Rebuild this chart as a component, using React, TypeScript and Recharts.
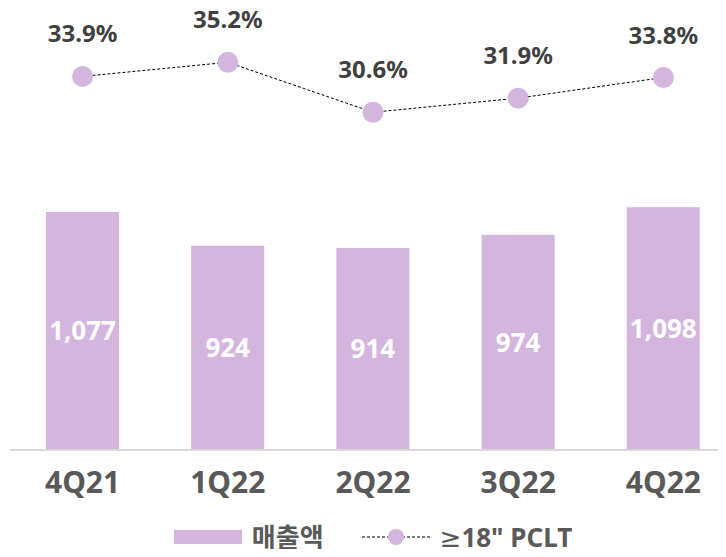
import React from "react";
import {
  ComposedChart,
  Bar,
  Line,
  XAxis,
  YAxis,
  Legend,
  LabelList,
} from "recharts";

const quarters = ["4Q21", "1Q22", "2Q22", "3Q22", "4Q22"];
const sales = [1077, 924, 914, 974, 1098];
const pcltShare = [33.9, 35.2, 30.6, 31.9, 33.8];

const BAR_COLOR = "#d3b5de";
const FONT = "'Noto Sans', 'Noto Sans CJK KR', sans-serif";

const data = quarters.map((q, i) => ({
  quarter: q,
  sales: sales[i],
  pclt: pcltShare[i],
}));

const AxisTick = (props: any) => {
  const { x, y, payload } = props;
  return (
    <text
      x={x}
      y={y + 35}
      textAnchor="middle"
      fill="#595959"
      fontSize={30}
      fontWeight={700}
      fontFamily={FONT}
    >
      {payload.value}
    </text>
  );
};

const PctLabel = (props: any) => {
  const { x, y, value } = props;
  return (
    <text
      x={x}
      y={y - 34}
      textAnchor="middle"
      fill="#404040"
      fontSize={24}
      fontWeight={700}
      fontFamily={FONT}
    >
      {value.toFixed(1)}%
    </text>
  );
};

const LegendBox = () => (
  <div
    style={{
      display: "flex",
      justifyContent: "center",
      alignItems: "center",
      height: 36,
      lineHeight: "28px",
      fontFamily: FONT,
      fontWeight: 700,
      fontSize: 26,
      color: "#595959",
    }}
  >
    <span style={{ width: 68, height: 14, background: BAR_COLOR }} />
    <span style={{ marginLeft: 10 }}>매출액</span>
    <svg width={68} height={20} style={{ marginLeft: 38 }}>
      <line x1={0} y1={10} x2={68} y2={10} stroke="#000" strokeDasharray="3 2" />
      <circle cx={34} cy={10} r={8} fill={BAR_COLOR} />
    </svg>
    <span style={{ marginLeft: 10 }}>
      <span style={{ fontFamily: "'DejaVu Sans'", fontWeight: 400 }}>≥</span>18" PCLT
    </span>
  </div>
);

const App = () => {
  return (
    <div style={{ width: 726, height: 557, overflow: "hidden", margin: -8 }}>
      <ComposedChart
        width={736}
        height={557}
        data={data}
        margin={{ top: 8, right: 0, left: 10, bottom: 2 }}
      >
        <XAxis
          dataKey="quarter"
          axisLine={{ stroke: "#d9d9d9", strokeWidth: 2 }}
          tickLine={false}
          tick={<AxisTick />}
          height={69}
          interval={0}
        />
        <YAxis yAxisId="bar" hide domain={[0, 2000]} />
        <YAxis yAxisId="pct" hide domain={[-0.5, 40.2]} />
        <Legend verticalAlign="bottom" content={<LegendBox />} />
        <Bar
          yAxisId="bar"
          dataKey="sales"
          fill={BAR_COLOR}
          barSize={73}
          isAnimationActive={false}
        >
          <LabelList
            dataKey="sales"
            position="center"
            fill="#fff"
            fontSize={26}
            fontWeight={700}
            fontFamily={FONT}
            formatter={(v: any) => Number(v).toLocaleString("en-US")}
          />
        </Bar>
        <Line
          yAxisId="pct"
          dataKey="pclt"
          stroke="#000"
          strokeWidth={1}
          strokeDasharray="3 2"
          dot={{ r: 10.5, fill: BAR_COLOR, stroke: "none" }}
          activeDot={false}
          isAnimationActive={false}
        >
          <LabelList dataKey="pclt" content={<PctLabel />} />
        </Line>
      </ComposedChart>
    </div>
  );
};

export default App;
